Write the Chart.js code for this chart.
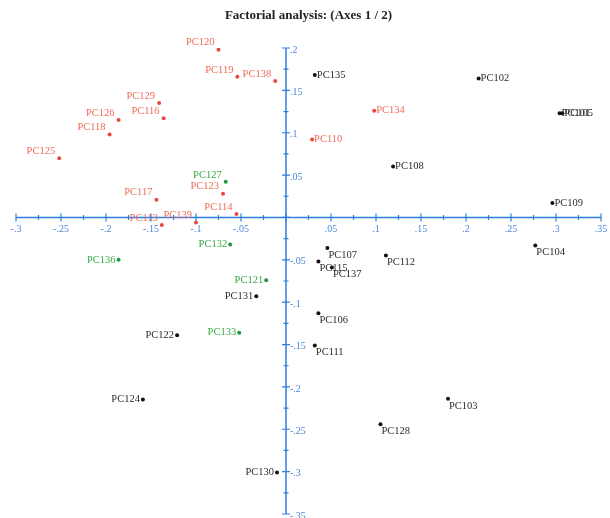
<!DOCTYPE html>
<html>
<head>
<meta charset="utf-8">
<script src="https://cdn.jsdelivr.net/npm/chart.js@4"></script>
<style>
  body { margin: 0; background: #fff; }
</style>
</head>
<body>
<canvas id="factChart" width="610" height="518"></canvas>
<script>
// observations, grouped by colour
const redNames = ['PC120', 'PC119', 'PC138', 'PC129', 'PC116', 'PC126', 'PC118', 'PC125', 'PC123', 'PC117', 'PC114', 'PC113', 'PC139', 'PC134', 'PC110']
const redX = [-0.075, -0.054, -0.012, -0.141, -0.136, -0.186, -0.196, -0.252, -0.070, -0.144, -0.055, -0.138, -0.100, 0.098, 0.029]
const redY = [0.198, 0.166, 0.161, 0.135, 0.117, 0.115, 0.098, 0.070, 0.028, 0.021, 0.004, -0.009, -0.006, 0.126, 0.092]

const greenNames = ['PC127', 'PC132', 'PC136', 'PC121', 'PC133']
const greenX = [-0.067, -0.062, -0.186, -0.022, -0.052]
const greenY = [0.042, -0.032, -0.050, -0.074, -0.136]

const blackNames = ['PC135', 'PC102', 'PC101', 'PC105', 'PC108', 'PC109', 'PC104', 'PC107', 'PC115', 'PC137', 'PC112', 'PC131', 'PC122', 'PC124', 'PC130', 'PC106', 'PC111', 'PC103', 'PC128']
const blackX = [0.032, 0.214, 0.304, 0.307, 0.119, 0.296, 0.277, 0.046, 0.036, 0.051, 0.111, -0.033, -0.121, -0.159, -0.010, 0.036, 0.032, 0.180, 0.105]
const blackY = [0.168, 0.164, 0.123, 0.123, 0.060, 0.017, -0.033, -0.036, -0.052, -0.059, -0.045, -0.093, -0.139, -0.215, -0.301, -0.113, -0.151, -0.214, -0.244]

// where each label sits next to its dot
const redLabelPos = ['lu', 'lu', 'lu', 'lu', 'lu', 'lu', 'lu', 'lu', 'lu', 'lu', 'lu', 'lu', 'lu', 'r', 'r']
const greenLabelPos = ['lu', 'l', 'l', 'l', 'l']
const blackLabelPos = ['r', 'r', 'r', 'r', 'r', 'r', 'rd', 'rd', 'rd', 'rd', 'rd', 'l', 'l', 'l', 'l', 'rd', 'rd', 'rd', 'rd']

// axis ticks
const xTicks = [-0.3, -0.25, -0.2, -0.15, -0.1, -0.05, 0, 0.05, 0.1, 0.15, 0.2, 0.25, 0.3, 0.35]
const xTickLabels = ['-.3', '-.25', '-.2', '-.15', '-.1', '-.05', '', '.05', '.1', '.15', '.2', '.25', '.3', '.35']
const yTicks = [0.2, 0.15, 0.1, 0.05, 0, -0.05, -0.1, -0.15, -0.2, -0.25, -0.3, -0.35]
const yTickLabels = ['.2', '.15', '.1', '.05', '', '-.05', '-.1', '-.15', '-.2', '-.25', '-.3', '-.35']

const AXIS = '#2f7fe0'
const AXIS_TEXT = '#4a86d8'

function points(xs, ys) {
    return xs.map((x, i) => ({x: x, y: ys[i]}))
}

const data = {
    datasets: [
        {label: 'red', data: points(redX, redY), names: redNames, pos: redLabelPos,
         backgroundColor: '#e64a3c', borderWidth: 0, pointRadius: 2, textColor: '#ee6a58'},
        {label: 'green', data: points(greenX, greenY), names: greenNames, pos: greenLabelPos,
         backgroundColor: '#1f9a3a', borderWidth: 0, pointRadius: 2, textColor: '#38a845'},
        {label: 'black', data: points(blackX, blackY), names: blackNames, pos: blackLabelPos,
         backgroundColor: '#111', borderWidth: 0, pointRadius: 2, textColor: '#2c2c2c'}
    ]
}

// axes through the origin, drawn with the chart's own scales
const centredAxes = {
    id: 'centredAxes',
    beforeDatasetsDraw(chart) {
        const {ctx, scales: {x, y}} = chart
        const x0 = x.getPixelForValue(0)
        const y0 = y.getPixelForValue(0)
        ctx.save()
        ctx.strokeStyle = AXIS
        ctx.lineWidth = 1.5
        ctx.beginPath()
        ctx.moveTo(x.getPixelForValue(xTicks[0]), y0)
        ctx.lineTo(x.getPixelForValue(xTicks[xTicks.length - 1]), y0)
        ctx.moveTo(x0, y.getPixelForValue(yTicks[0]))
        ctx.lineTo(x0, y.getPixelForValue(yTicks[yTicks.length - 1]))
        ctx.stroke()

        ctx.lineWidth = 1.2
        ctx.beginPath()
        xTicks.forEach((v, i) => {
            const px = x.getPixelForValue(v)
            ctx.moveTo(px, y0 - 4); ctx.lineTo(px, y0 + 4)
            if (i < xTicks.length - 1) {
                const mx = x.getPixelForValue((v + xTicks[i + 1]) / 2)
                ctx.moveTo(mx, y0 - 2.5); ctx.lineTo(mx, y0 + 2.5)
            }
        })
        yTicks.forEach((v, i) => {
            const py = y.getPixelForValue(v)
            ctx.moveTo(x0 - 4, py); ctx.lineTo(x0 + 4, py)
            if (i < yTicks.length - 1) {
                const my = y.getPixelForValue((v + yTicks[i + 1]) / 2)
                ctx.moveTo(x0 - 2.5, my); ctx.lineTo(x0 + 2.5, my)
            }
        })
        ctx.stroke()

        ctx.fillStyle = AXIS_TEXT
        ctx.font = '10px "Liberation Serif", serif'
        ctx.textAlign = 'center'
        ctx.textBaseline = 'top'
        xTicks.forEach((v, i) => ctx.fillText(xTickLabels[i], x.getPixelForValue(v), y0 + 7))
        ctx.textAlign = 'left'
        ctx.textBaseline = 'middle'
        yTicks.forEach((v, i) => ctx.fillText(yTickLabels[i], x0 + 4, y.getPixelForValue(v) + 2))
        ctx.restore()
    }
}

const pointNames = {
    id: 'pointNames',
    afterDatasetsDraw(chart) {
        const {ctx} = chart
        ctx.save()
        ctx.font = '10.5px "Liberation Serif", serif'
        chart.data.datasets.forEach((ds, d) => {
            ctx.fillStyle = ds.textColor
            chart.getDatasetMeta(d).data.forEach((el, i) => {
                const p = ds.pos[i]
                let tx = el.x, ty = el.y
                if (p === 'lu') { ctx.textAlign = 'right'; tx -= 4; ty -= 7 }
                else if (p === 'l') { ctx.textAlign = 'right'; tx -= 3 }
                else if (p === 'r') { ctx.textAlign = 'left'; tx += 2 }
                else { ctx.textAlign = 'left'; tx += 1; ty += 7 }
                ctx.textBaseline = 'middle'
                ctx.fillText(ds.names[i], tx, ty)
            })
        })
        ctx.restore()
    }
}

const config = {
    type: 'scatter',
    data,
    options: {
        responsive: false,
        animation: false,
        layout: {padding: {left: 16, right: 9, top: 0, bottom: 4}},
        scales: {
            x: {type: 'linear', min: -0.3, max: 0.35, display: false},
            y: {type: 'linear', min: -0.35, max: 0.2, display: false}
        },
        plugins: {
            legend: {display: false},
            tooltip: {enabled: false},
            title: {
                display: true,
                text: 'Factorial analysis: (Axes 1 / 2)',
                color: '#222',
                font: {family: '"Liberation Serif", serif', size: 13, weight: 'bold'},
                padding: {top: 8.2, bottom: 24.2}
            }
        }
    },
    plugins: [centredAxes, pointNames]
}

const myChart = new Chart(document.getElementById('factChart'), config)
</script>
</body>
</html>
